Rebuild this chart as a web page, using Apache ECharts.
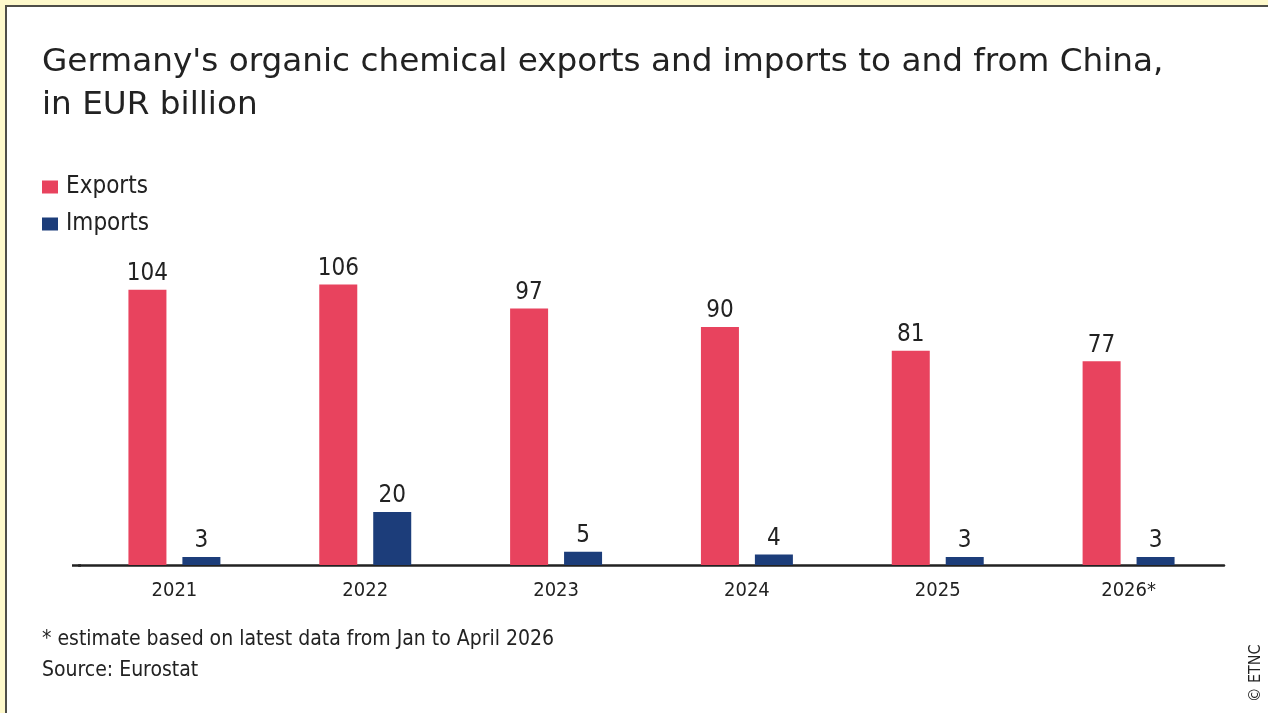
<!DOCTYPE html>
<html>
<head>
<meta charset="utf-8">
<script src="https://cdn.jsdelivr.net/npm/echarts@6/dist/echarts.min.js"></script>
<style>
  html, body { margin: 0; padding: 0; width: 1268px; height: 713px; overflow: hidden; background: #fef9cb; }
  #frame { position: absolute; left: 5px; top: 5px; right: 0; bottom: 0; background: #ffffff; border-left: 2px solid #4e4e48; border-top: 2px solid #4e4e48; }
  #chart { position: absolute; left: 0; top: 0; width: 1268px; height: 713px; }
</style>
</head>
<body>
<div id="frame"></div>
<div id="chart"></div>
<script>
const years = ['2021', '2022', '2023', '2024', '2025', '2026*'];
const exportsValues = [104, 106, 97, 90, 81, 77];
const importsValues = [3, 20, 5, 4, 3, 3];
const seriesNames = ['Exports', 'Imports'];
const titleText = "Germany's organic chemical exports and imports to and from China,\nin EUR billion";
const footnoteText = '* estimate based on latest data from Jan to April 2026';
const sourceText = 'Source: Eurostat';
const creditText = '\u00A9 ETNC';

const FONT = '"DejaVu Sans Condensed", "DejaVu Sans", sans-serif';
const TITLE_FONT = '"DejaVu Sans", sans-serif';
const TEXT = '#222222';
const RED = '#e8435e';
const NAVY = '#1c3d7a';

const chart = echarts.init(document.getElementById('chart'), null, { renderer: 'canvas' });
chart.setOption({
  backgroundColor: 'transparent',
  animation: false,
  textStyle: { fontFamily: FONT, color: TEXT },
  title: {
    text: titleText,
    left: 37,
    top: 36,
    textStyle: { fontFamily: TITLE_FONT, fontSize: 32.7, fontWeight: 'normal', color: TEXT, lineHeight: 43 }
  },
  legend: {
    orient: 'vertical',
    left: 42,
    top: 174,
    padding: 0,
    icon: 'rect',
    itemWidth: 16,
    itemHeight: 13,
    itemGap: 11,
    data: seriesNames,
    textStyle: { fontFamily: FONT, fontSize: 24, color: TEXT, lineHeight: 26, padding: [0, 0, 0, 3] }
  },
  grid: { left: 79, right: 44, top: 274, bottom: 148, containLabel: false },
  xAxis: {
    type: 'category',
    data: years,
    axisLine: { lineStyle: { color: '#222222', width: 2.5 } },
    axisTick: { show: false },
    axisLabel: { fontFamily: FONT, fontSize: 20, color: TEXT, margin: 16 }
  },
  yAxis: {
    type: 'value',
    min: 0,
    max: 110,
    show: false,
    splitLine: { show: false }
  },
  series: [
    {
      name: seriesNames[0],
      type: 'bar',
      data: exportsValues,
      barWidth: 38,
      barGap: '42%',
      itemStyle: { color: RED },
      label: { show: true, position: 'top', distance: 4, fontFamily: FONT, fontSize: 24, color: TEXT }
    },
    {
      name: seriesNames[1],
      type: 'bar',
      data: importsValues,
      barWidth: 38,
      barGap: '42%',
      itemStyle: { color: NAVY },
      label: { show: true, position: 'top', distance: 4, fontFamily: FONT, fontSize: 24, color: TEXT }
    }
  ],
  graphic: [
    { type: 'line', shape: { x1: 72, y1: 565.5, x2: 81, y2: 565.5 }, style: { stroke: '#222222', lineWidth: 2.5 } },
    { type: 'text', left: 42, top: 629, style: { text: footnoteText, fontFamily: FONT, fontSize: 21, fill: TEXT } },
    { type: 'text', left: 42, top: 660, style: { text: sourceText, fontFamily: FONT, fontSize: 21, fill: TEXT } },
    { type: 'text', x: 1264, y: 702, rotation: Math.PI / 2, style: { text: creditText, fontFamily: FONT, fontSize: 16, fill: TEXT, align: 'left', verticalAlign: 'bottom' } }
  ]
});
</script>
</body>
</html>
